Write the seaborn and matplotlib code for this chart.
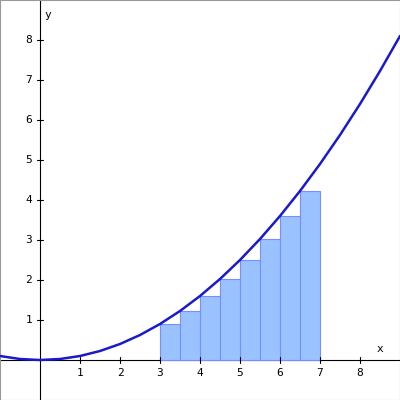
import matplotlib
matplotlib.use("Agg")
import matplotlib.pyplot as plt
import seaborn as sns
import pandas as pd

# curve points
curve_x = [-1, -0.5, 0, 0.5, 1, 1.5, 2, 2.5, 3, 3.5, 4, 4.5, 5, 5.5, 6, 6.5, 7, 7.5, 8, 8.5, 9]
curve_y = [0.1, 0.025, 0, 0.025, 0.1, 0.225, 0.4, 0.625, 0.9, 1.225, 1.6, 2.025, 2.5,
           3.025, 3.6, 4.225, 4.9, 5.625, 6.4, 7.225, 8.1]

# rectangles (left edges and heights)
bar_left = [3, 3.5, 4, 4.5, 5, 5.5, 6, 6.5]
bar_height = [0.9, 1.225, 1.6, 2.025, 2.5, 3.025, 3.6, 4.225]
bar_width = 0.5

ticks = [1, 2, 3, 4, 5, 6, 7, 8]

sns.set_style("white")
fig = plt.figure(figsize=(4, 4), dpi=100)
ax = fig.add_axes([0, 0, 1, 1])
ax.set_xlim(-1, 9)
ax.set_ylim(-1, 9)

ax.bar(bar_left, bar_height, width=bar_width, align="edge",
       color="#99c2ff", edgecolor="#7a8cff", linewidth=0.8, zorder=2)

df = pd.DataFrame({"x": curve_x, "y": curve_y})
sns.lineplot(data=df, x="x", y="y", ax=ax, color="#1a1acc", linewidth=1.8, zorder=3)

ax.axhline(0, color="black", linewidth=0.8, zorder=1)
ax.axvline(0, color="black", linewidth=0.8, zorder=1)

font = dict(family="DejaVu Sans Mono", fontsize=8, color="black")
for t in ticks:
    ax.plot([t, t], [-0.07, 0.07], color="black", linewidth=0.8)
    ax.plot([-0.07, 0.07], [t, t], color="black", linewidth=0.8)
    ax.text(t, -0.2, str(t), ha="center", va="top", **font)
    ax.text(-0.2, t, str(t), ha="right", va="center", **font)
ax.text(8.5, 0.15, "x", ha="center", va="bottom", **font)
ax.text(0.2, 8.5, "y", ha="center", va="bottom", **font)

ax.set_xlabel("")
ax.set_ylabel("")
ax.set_xticks([])
ax.set_yticks([])
for s in ax.spines.values():
    s.set_color("#999999")

fig.savefig("out.png", dpi=100)
